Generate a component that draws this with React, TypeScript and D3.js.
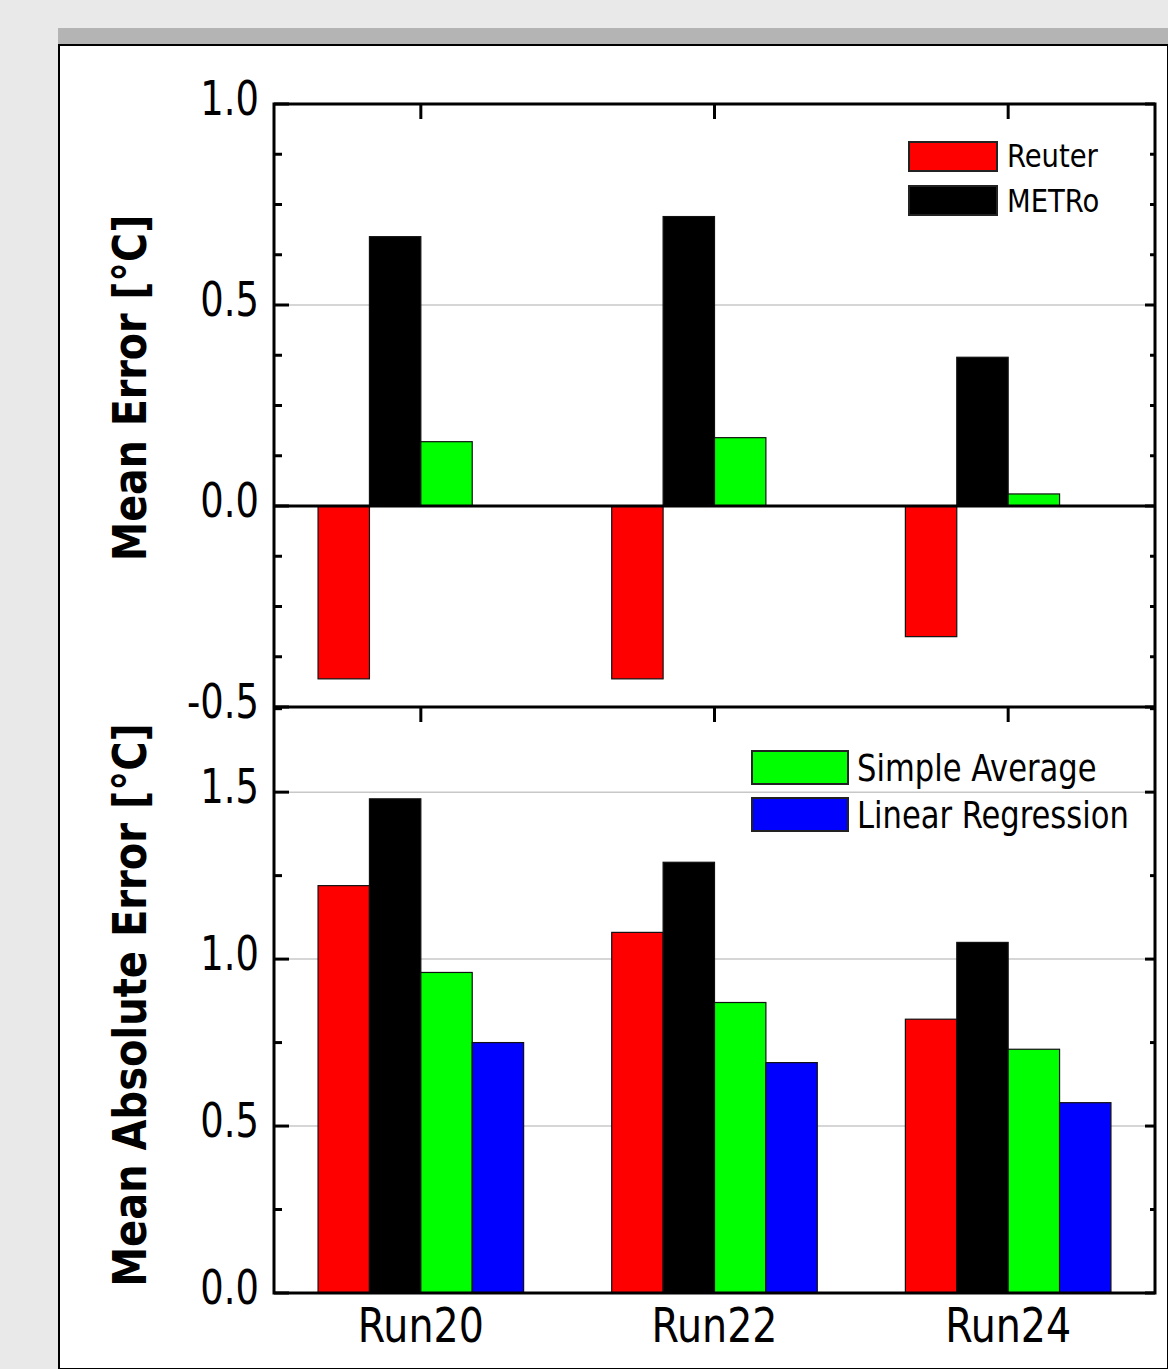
import React from "react";
import * as d3 from "d3";

// categories and series
const runs = ["Run20", "Run22", "Run24"];
const seriesNames = ["Reuter", "METRo", "Simple Average", "Linear Regression"];
const seriesColors = ["#ff0000", "#000000", "#00ff00", "#0000ff"];

// top panel: mean error
const meReuter = [-0.43, -0.43, -0.325];
const meMetro = [0.67, 0.72, 0.37];
const meSimple = [0.16, 0.17, 0.03];
const meTicks = [-0.5, 0.0, 0.5, 1.0];

// bottom panel: mean absolute error
const maeReuter = [1.22, 1.08, 0.82];
const maeMetro = [1.48, 1.29, 1.05];
const maeSimple = [0.96, 0.87, 0.73];
const maeLinear = [0.75, 0.69, 0.57];
const maeTicks = [0.0, 0.5, 1.0, 1.5];

const FONT = "'DejaVu Sans Condensed', 'DejaVu Sans', sans-serif";

const W = 1168;
const H = 1369;
const left = 274;
const right = 1155;
const topY = 104;
const midY = 707;
const botY = 1293;

// tick label format, plain hyphen for negatives
const fmt = (v: number) => d3.format(".1f")(v).replace("\u2212", "-");

// text stretched a little vertically, like the original's font
function Txt(props: {
  x: number;
  y: number;
  size: number;
  anchor?: string;
  sy?: number;
  bold?: boolean;
  rotate?: number;
  children: React.ReactNode;
}) {
  const { x, y, size, anchor = "start", sy = 1.12, bold = false, rotate = 0 } = props;
  return (
    <text
      transform={`translate(${x},${y}) rotate(${rotate}) scale(1,${sy})`}
      textAnchor={anchor}
      fontSize={size}
      fontWeight={bold ? "bold" : "normal"}
      fontStretch="condensed"
      fill="#000"
    >
      {props.children}
    </text>
  );
}

function App() {
  const x0 = d3.scaleBand<string>().domain(runs).range([left, right]).padding(0);
  const bw = x0.bandwidth();
  const x1 = d3
    .scaleBand<string>()
    .domain(seriesNames)
    .range([bw * 0.15, bw * 0.85])
    .padding(0);

  const yTop = d3.scaleLinear().domain([-0.5, 1.0]).range([midY, topY]);
  const yBot = d3.scaleLinear().domain([0, 1.755]).range([botY, midY]);

  const topSeries = [meReuter, meMetro, meSimple];
  const botSeries = [maeReuter, maeMetro, maeSimple, maeLinear];

  const topMinor = d3.range(-0.5, 1.0001, 0.125);
  const botMinor = d3.range(0, 1.7501, 0.25);

  const bars = (series: number[][], y: d3.ScaleLinear<number, number>) =>
    series.map((vals, si) =>
      vals.map((v, ci) => {
        const x = (x0(runs[ci]) as number) + (x1(seriesNames[si]) as number);
        const y0 = y(0);
        const yv = y(v);
        return (
          <rect
            key={`${si}-${ci}`}
            x={x}
            y={Math.min(y0, yv)}
            width={x1.bandwidth()}
            height={Math.abs(yv - y0)}
            fill={seriesColors[si]}
            stroke="#111"
            strokeWidth={1.2}
          />
        );
      })
    );

  const sideTicks = (
    y: d3.ScaleLinear<number, number>,
    minor: number[],
    major: number[],
    key: string
  ) => (
    <g key={key}>
      {minor.map((t, i) => {
        const isMajor = major.some((m) => Math.abs(m - t) < 1e-6);
        return (
          <g key={i}>
            <line x1={left} x2={left + (isMajor ? 15 : 8)} y1={y(t)} y2={y(t)} stroke="#000" strokeWidth={3} />
            <line x1={right} x2={right - (isMajor ? 10 : 5)} y1={y(t)} y2={y(t)} stroke="#000" strokeWidth={3} />
          </g>
        );
      })}
    </g>
  );

  return (
    <svg
      width={W}
      height={H}
      style={{ position: "absolute", left: 0, top: 0, display: "block" }}
      fontFamily={FONT}
    >
      <rect x={0} y={0} width={W} height={H} fill="#e9e9e9" />
      <rect x={58} y={28} width={W - 58} height={17} fill="#b4b4b4" />
      <rect x={59} y={45} width={W - 59} height={H - 45} fill="#ffffff" stroke="#000" strokeWidth={2} />

      {/* gridlines */}
      <line x1={left} x2={right} y1={yTop(0.5)} y2={yTop(0.5)} stroke="#c8c8c8" strokeWidth={1.5} />
      {maeTicks
        .filter((t) => t > 0)
        .map((t) => (
          <line key={t} x1={left} x2={right} y1={yBot(t)} y2={yBot(t)} stroke="#c8c8c8" strokeWidth={1.5} />
        ))}

      {bars(topSeries, yTop)}
      {bars(botSeries, yBot)}

      {/* zero line top panel */}
      <line x1={left} x2={right} y1={yTop(0)} y2={yTop(0)} stroke="#000" strokeWidth={3} />

      {/* frames */}
      <rect x={left} y={topY} width={right - left} height={botY - topY} fill="none" stroke="#000" strokeWidth={3} />
      <line x1={left} x2={right} y1={midY} y2={midY} stroke="#000" strokeWidth={3} />

      {sideTicks(yTop, topMinor, meTicks, "tt")}
      {sideTicks(yBot, botMinor, maeTicks, "bt")}

      {/* category ticks and labels */}
      {runs.map((r) => {
        const cx = (x0(r) as number) + bw / 2;
        return (
          <g key={r}>
            <line x1={cx} x2={cx} y1={topY} y2={topY + 15} stroke="#000" strokeWidth={3} />
            <line x1={cx} x2={cx} y1={midY} y2={midY + 15} stroke="#000" strokeWidth={3} />
            <Txt x={cx} y={1342} size={44} anchor="middle" sy={1.1}>
              {r}
            </Txt>
          </g>
        );
      })}

      {/* y tick labels */}
      {meTicks.map((t) => (
        <Txt key={`m${t}`} x={259} y={yTop(t) + 11} size={41} anchor="end" sy={1.15}>
          {fmt(t)}
        </Txt>
      ))}
      {maeTicks.map((t) => (
        <Txt key={`a${t}`} x={259} y={yBot(t) + 11} size={41} anchor="end" sy={1.15}>
          {fmt(t)}
        </Txt>
      ))}

      {/* axis titles */}
      <Txt x={146} y={388} size={44} anchor="middle" bold rotate={-90} sy={1.05}>
        Mean Error [°C]
      </Txt>
      <Txt x={146} y={1005} size={44.5} anchor="middle" bold rotate={-90} sy={1.05}>
        Mean Absolute Error [°C]
      </Txt>

      {/* legends */}
      {[0, 1].map((i) => (
        <g key={`lt${i}`}>
          <rect x={909} y={142 + i * 44} width={88} height={29} fill={seriesColors[i]} stroke="#222" strokeWidth={2} />
          <Txt x={1007} y={167 + i * 45} size={30.5} sy={1.05}>
            {seriesNames[i]}
          </Txt>
        </g>
      ))}
      {[2, 3].map((i, k) => (
        <g key={`lb${i}`}>
          <rect x={752} y={751 + k * 47} width={96} height={33} fill={seriesColors[i]} stroke="#222" strokeWidth={2} />
          <Txt x={857} y={781 + k * 47} size={34} sy={1.1}>
            {seriesNames[i]}
          </Txt>
        </g>
      ))}
    </svg>
  );
}

export default App;
